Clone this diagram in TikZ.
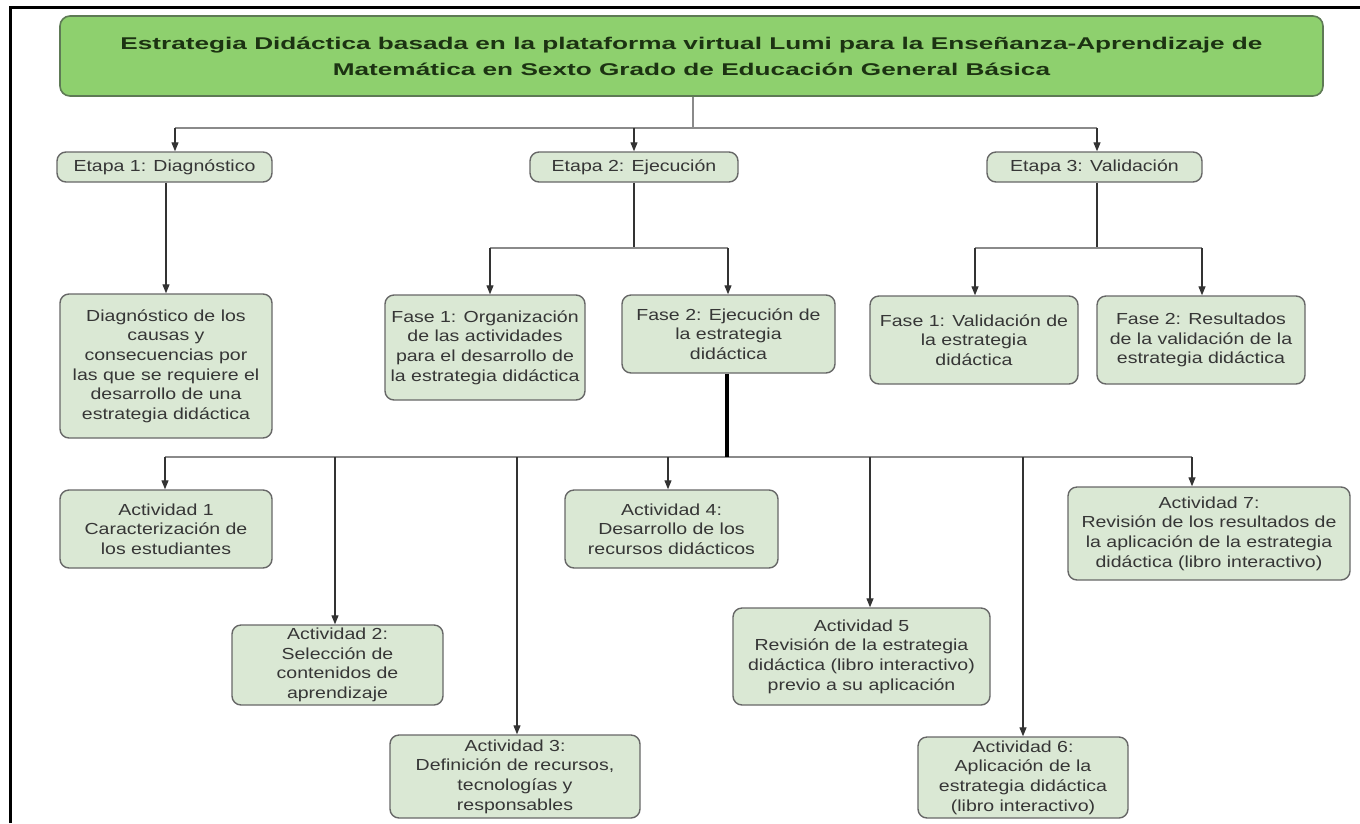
\documentclass[tikz,border=0pt]{standalone}
\usepackage{fontspec}
\setmainfont{Liberation Sans}
\newfontfamily\fuentecaja[FakeStretch=1.22]{Liberation Sans}
\newfontfamily\fuentetitulo[FakeStretch=1.54]{Liberation Sans}
\usepackage{xcolor}
\usetikzlibrary{arrows.meta}

\definecolor{verdetit}{HTML}{8ED06E}
\definecolor{bordetit}{HTML}{5E7A55}
\definecolor{verdecaja}{HTML}{DAE8D4}
\definecolor{bordecaja}{HTML}{676767}
\definecolor{textocaja}{HTML}{363636}
\definecolor{textotit}{HTML}{1C3312}
\definecolor{lineagris}{HTML}{8A8A8A}

\tikzset{
  caja/.style={draw=bordecaja, fill=verdecaja, rounded corners=9pt, line width=1.4pt,
    align=center, inner sep=0pt, text=textocaja,
    font=\fuentecaja\fontsize{16}{19.6}\selectfont},
  titulo/.style={draw=bordetit, fill=verdetit, rounded corners=10pt, line width=1.6pt,
    align=center, inner sep=0pt, text=textotit,
    font=\fuentetitulo\bfseries\fontsize{17}{26}\selectfont},
  flecha/.style={-{Triangle[length=9pt,width=7pt]}, line width=1.2pt, draw=black!80},
  bus/.style={line width=2pt, draw=lineagris},
  tronco/.style={line width=1.6pt, draw=black!80}
}

\begin{document}
\begin{tikzpicture}[x=1pt,y=-1pt]
\useasboundingbox (0,0) rectangle (1360,823);
% marco
\draw[line width=3pt] (10,823) -- (10,7) -- (1360,7);
% titulo
\node[titulo, minimum width=1263pt, minimum height=80pt] (tit) at (691.5,56)
  {Estrategia Didáctica basada en la plataforma virtual Lumi para la Enseñanza-Aprendizaje de\\
   Matemática en Sexto Grado de Educación General Básica};
% etapas
\node[caja, minimum width=215pt, minimum height=30pt] (e1) at (164.5,167) {Etapa 1: Diagnóstico};
\node[caja, minimum width=208pt, minimum height=30pt] (e2) at (634,167) {Etapa 2: Ejecución};
\node[caja, minimum width=215pt, minimum height=30pt] (e3) at (1094.5,167) {Etapa 3: Validación};
% fases
\node[caja, minimum width=212pt, minimum height=144pt] (diag) at (166,366)
  {Diagnóstico de los\\causas y\\consecuencias por\\las que se requiere el\\desarrollo de una\\estrategia didáctica};
\node[caja, minimum width=200pt, minimum height=105pt] (f1) at (485,347.5)
  {Fase 1: Organización\\de las actividades\\para el desarrollo de\\la estrategia didáctica};
\node[caja, minimum width=213pt, minimum height=78pt] (f2) at (728.5,334)
  {Fase 2: Ejecución de\\la estrategia\\didáctica};
\node[caja, minimum width=208pt, minimum height=88pt] (v1) at (974,340)
  {Fase 1: Validación de\\la estrategia\\didáctica};
\node[caja, minimum width=208pt, minimum height=88pt] (v2) at (1201,340)
  {Fase 2: Resultados\\de la validación de la\\estrategia didáctica};
% actividades
\node[caja, minimum width=212pt, minimum height=78pt] (a1) at (166,529)
  {Actividad 1\\Caracterización de\\los estudiantes};
\node[caja, minimum width=211pt, minimum height=80pt] (a2) at (337.5,665)
  {Actividad 2:\\Selección de\\contenidos de\\aprendizaje};
\node[caja, minimum width=250pt, minimum height=83pt] (a3) at (515,776.5)
  {Actividad 3:\\Definición de recursos,\\tecnologías y\\responsables};
\node[caja, minimum width=213pt, minimum height=78pt] (a4) at (671.5,529)
  {Actividad 4:\\Desarrollo de los\\recursos didácticos};
\node[caja, minimum width=257pt, minimum height=97pt] (a5) at (861.5,656.5)
  {Actividad 5\\Revisión de la estrategia\\didáctica (libro interactivo)\\previo a su aplicación};
\node[caja, minimum width=210pt, minimum height=81pt] (a6) at (1023,777.5)
  {Actividad 6:\\Aplicación de la\\estrategia didáctica\\(libro interactivo)};
\node[caja, minimum width=282pt, minimum height=93pt] (a7) at (1209,533.5)
  {Actividad 7:\\Revisión de los resultados de\\la aplicación de la estrategia\\didáctica (libro interactivo)};

% del titulo a las etapas
\coordinate (t0) at (693,128);
\coordinate (t1) at (175,128);
\coordinate (t3) at (1097,128);
\draw[bus] (tit.south -| t0) -- (t0);
\draw[bus] (t1) -- (t3);
\draw[flecha] (t1) -- (t1 |- e1.north);
\draw[flecha] (t0 -| e2) -- (e2.north);
\draw[flecha] (t3) -- (t3 |- e3.north);
% etapa 1
\draw[flecha] (diag.north |- e1.south) -- (diag.north);
% etapa 2
\coordinate (p0) at (634,248);
\coordinate (p1) at (490,248);
\coordinate (p2) at (728,248);
\draw[tronco] (e2.south) -- (p0);
\draw[bus] (p1) -- (p2);
\draw[flecha] (p1) -- (p1 |- f1.north);
\draw[flecha] (p2) -- (p2 |- f2.north);
% etapa 3
\coordinate (q0) at (1097,248);
\coordinate (q1) at (975,248);
\coordinate (q2) at (1202,248);
\draw[tronco] (e3.south -| q0) -- (q0);
\draw[bus] (q1) -- (q2);
\draw[flecha] (q1) -- (q1 |- v1.north);
\draw[flecha] (q2) -- (q2 |- v2.north);
% fase 2 a las actividades
\coordinate (r0) at (727,457);
\coordinate (r1) at (165,457);
\coordinate (r7) at (1192,457);
\draw[bus] (r1) -- (r7);
\draw[line width=4pt] (f2.south -| r0) -- (r0);
\foreach \n/\x in {1/165,2/335,3/517,4/668,5/870,6/1023,7/1192}{
  \coordinate (s\n) at (\x,457);
  \draw[flecha] (s\n) -- (s\n |- a\n.north);
}
\end{tikzpicture}
\end{document}
